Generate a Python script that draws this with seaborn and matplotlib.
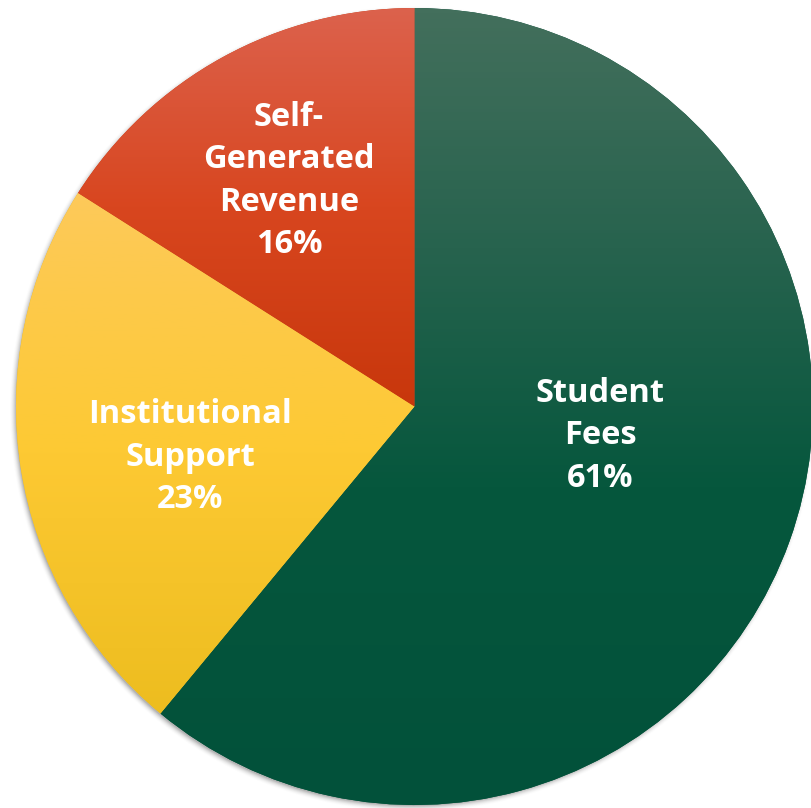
import numpy as np
import matplotlib
matplotlib.use("Agg")
import matplotlib.pyplot as plt
from matplotlib.colors import LinearSegmentedColormap
import seaborn as sns

# Revenue sources and their shares (percent)
categories = ["Student\nFees", "Institutional\nSupport", "Self-\nGenerated\nRevenue"]
shares = [61, 23, 16]

# Vertical gradient stops for each slice, listed top -> bottom
gradient_stops = [
    [(0.0, "#436f5c"), (0.3, "#27634e"), (0.6, "#06573d"), (1.0, "#02513a")],
    [(0.0, "#fdca5a"), (0.5, "#fdc933"), (1.0, "#edbd1f")],
    [(0.0, "#dc624d"), (0.5, "#d8461f"), (1.0, "#c8370c")],
]

sns.set_theme(style="white")
plt.rcParams["font.family"] = ["Open Sans", "DejaVu Sans"]

W, H = 812, 808
fig = plt.figure(figsize=(W / 100, H / 100), dpi=100)
ax = fig.add_axes([0, 0, 1, 1])

cx, cy, R = 414.5, H - 406.5, 398.5

wedges, _ = ax.pie(
    shares,
    startangle=90,
    counterclock=False,
    radius=R,
    center=(cx, cy),
    colors=[s[-1][1] for s in gradient_stops],
    wedgeprops=dict(linewidth=0),
)

# soft drop shadow behind the pie
yy, xx = np.mgrid[0:H, 0:W]
d = np.hypot(xx + 0.5 - (cx - 2.0), (H - yy - 0.5) - (cy - 2.5))
alpha = np.clip((R + 5 - d) / 7.0, 0, 1) ** 2 * 0.45
shadow = np.zeros((H, W, 4))
shadow[..., :3] = 0.35
shadow[..., 3] = alpha
ax.imshow(shadow, extent=(0, W, 0, H), origin="upper", zorder=0.5, interpolation="bilinear")

# gradient fill clipped to each wedge
for w, stops in zip(wedges, gradient_stops):
    th = np.radians(np.linspace(w.theta1, w.theta2, 200))
    ys = np.concatenate([cy + R * np.sin(th), [cy]])
    y0, y1 = ys.min(), ys.max()
    cmap = LinearSegmentedColormap.from_list("g", stops)
    grad = np.linspace(0, 1, 256).reshape(-1, 1)
    im = ax.imshow(grad, cmap=cmap, extent=(cx - R, cx + R, y1, y0),
                   origin="lower", aspect="auto", zorder=2, interpolation="bilinear")
    im.set_clip_path(w)
    w.set_zorder(1)

# labels
label_pos = [(600, 436), (190, 457), (289, 181)]
for lab, s, (lx, ly) in zip(categories, shares, label_pos):
    ax.text(lx, H - ly, f"{lab}\n{s}%", ha="center", va="center", color="white",
            fontsize=23.5, fontweight="bold", linespacing=1.37, zorder=5)

ax.set_xlim(0, W)
ax.set_ylim(0, H)
ax.set_aspect("auto")
ax.axis("off")
fig.savefig("out.png", dpi=100, facecolor="white")
